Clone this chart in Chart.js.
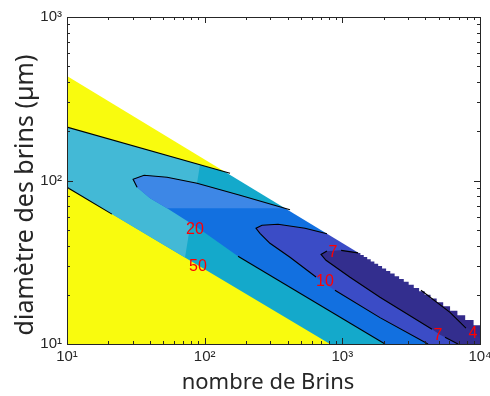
<!DOCTYPE html>
<html>
<head>
<meta charset="utf-8">
<script src="https://cdn.jsdelivr.net/npm/chart.js@4.4.1/dist/chart.umd.min.js"></script>
<style>
  html, body { margin: 0; background: #fff; }
</style>
</head>
<body>
<canvas id="carte" width="490" height="396"></canvas>
<script>
// valeurs : [nombre de brins, diamètre en µm]
const limiteDomaine = [[10, 435], [1316, 36], [1353, 36]];
// fin des rangées de la grille (bord en escalier en bas à droite)
const escalier = [
  [1316, 36], [1353, 35], [1431, 34], [1516, 33], [1608, 32], [1709, 31], [1821, 30],
  [1944, 29], [2080, 28], [2230, 27], [2399, 26], [2585, 25], [2795, 24], [3033, 23],
  [3303, 22], [3611, 21], [3963, 20], [4372, 19], [4845, 18], [5403, 17], [6062, 16],
  [6853, 15], [7807, 14], [8982, 13], [10000, 13]
];
const coinHautDroit = [[10000, 1000], [10000, 10]];

const ligne50Haut = [[10, 212], [152.8, 110.8]];
const ligne50Bas = [[10, 90.9], [813.7, 10]];

const contour20Haut = [[30.2, 101.8], [36.3, 107.7], [53.3, 104.7], [88, 96.2], [180.6, 81.2], [416.7, 66.2]];
const contour20Bas = [[30.2, 101.8], [32.3, 90.9], [40.1, 77.9], [53.3, 67.6], [88, 51.7], [174.7, 34.4], [2041, 10]];

const contour10Haut = [[236, 51], [261, 53.2], [341, 54], [535.6, 51], [773.6, 47.2]];
const contour10Bas = [[236, 51], [252.3, 47.5], [298, 41.3], [416.7, 33.9], [644, 25.7], [813.7, 22.2], [884, 21.3], [1877, 14.5], [4191, 10]];

const contour7Haut = [[700, 35.3], [761, 36.9], [961.6, 37.4], [1300, 36.1]];
const contour7Bas = [[700, 35.3], [761, 32.5], [1137, 25.6], [1877, 19.3], [4480, 12.3], [5121, 11.4], [5568, 11.0], [6920, 10]];

const contour4 = [[3727, 21.3], [6053, 15.6], [10000, 10.8]];

// teintes plus claires (rendu de la figure d'origine)
const cyanClair = [[10, 212], [92.5, 124.9], [72, 33.8], [10, 90.9]];
const bleuClair = [[53.3, 67.7], [40.1, 77.9], [32.3, 90.9], [30.2, 101.8], [36.3, 107.7], [53.3, 104.7], [88, 96.2], [180.6, 81.2], [392, 67.7]];

// morceaux de lignes noires visibles
const traits = [
  ligne50Haut,
  [[10, 90.9], [21.2, 62.3]],
  [[32.3, 90.9], [30.2, 101.8], ...contour20Haut.slice(1)],
  [[174.7, 34.4], [2041, 10]],
  [[644, 25.7], [416.7, 33.9], [298, 41.3], [252.3, 47.5], ...contour10Haut],
  [[884, 21.3], [1877, 14.5], [4191, 10]],
  [[773.6, 37.1], [700, 35.3], [761, 32.5], [1137, 25.6], [1877, 19.3], [4480, 12.3]],
  [[980, 37.4], [1300, 36.1]],
  [[5568, 11.0], [6920, 10]],
  [[3727, 21.3], [6053, 15.6], [7912, 12.5]]
];

const etiquettes = [
  {texte: '20', n: 85.1, d: 50.3},
  {texte: '50', n: 89.4, d: 29.8},
  {texte: '7', n: 855, d: 36.4},
  {texte: '10', n: 748, d: 24.1},
  {texte: '7', n: 4953, d: 11.3},
  {texte: '4', n: 8895, d: 11.6}
];

const titreX = 'nombre de Brins';
const titreY = 'diamètre des brins (µm)';
const exposants = {1: '¹', 2: '²', 3: '³', 4: '⁴'};
const couleurs = {
  jaune: '#f9fb0e',
  cyan: '#14a9cb',
  cyanClair: '#43b9d6',
  bleu: '#1270e0',
  bleuClair: '#3d87e6',
  bleuViolet: '#3b4cc6',
  violet: '#332e8e',
  violetFonce: '#33298a'
};

const pts = arr => arr.map(p => ({x: p[0], y: p[1]}));
const interieur = (haut, bas) => [
  ...bas.slice().reverse(), ...haut.slice(1), ...coinHautDroit, bas[bas.length - 1]
];

const zones = [
  {poly: [[10, 10], [10, 1000], [10000, 1000], [10000, 10]], c: couleurs.jaune},
  {poly: [...ligne50Haut, ...coinHautDroit, ...ligne50Bas.slice().reverse()], c: couleurs.cyan},
  {poly: cyanClair, c: couleurs.cyanClair},
  {poly: interieur(contour20Haut, contour20Bas), c: couleurs.bleu},
  {poly: bleuClair, c: couleurs.bleuClair},
  {poly: interieur(contour10Haut, contour10Bas), c: couleurs.bleuViolet},
  {poly: interieur(contour7Haut, contour7Bas), c: couleurs.violet},
  {poly: [...contour4, [10000, 1000]], c: couleurs.violetFonce},
  {poly: [...limiteDomaine, [1353, 1000], [10, 1000]], c: '#ffffff'},
  {poly: [...escalier, [10000, 1000], [1316, 1000]], c: '#ffffff', marches: 'before'}
];

const datasets = [];
zones.forEach((z, i) => datasets.push({
  data: pts(z.poly), showLine: true, fill: 'shape', backgroundColor: z.c,
  borderWidth: 0, pointRadius: 0, tension: 0, stepped: z.marches || false, order: 100 - i
}));
traits.forEach(t => datasets.push({
  data: pts(t), showLine: true, fill: false, borderColor: '#000',
  borderWidth: 1.1, pointRadius: 0, tension: 0, order: 1
}));

const graduer = scale => {
  const ticks = [];
  for (let e = Math.log10(scale.min); e < Math.log10(scale.max); e++) {
    for (let k = 1; k < 10; k++) ticks.push({value: k * Math.pow(10, e)});
  }
  ticks.push({value: scale.max});
  scale.ticks = ticks;
};
const estDecade = v => Math.abs(Math.log10(v) - Math.round(Math.log10(v))) < 1e-9;
const texteTick = v => estDecade(v) ? '10' + exposants[Math.round(Math.log10(v))] : '';

const cadre = {
  id: 'cadre',
  afterDatasetsDraw(chart) {
    const {ctx, chartArea: a, scales: {x, y}} = chart;
    ctx.save();
    ctx.fillStyle = '#ff0000';
    ctx.font = '16px "Liberation Sans", Arial, sans-serif';
    ctx.textAlign = 'center';
    ctx.textBaseline = 'middle';
    etiquettes.forEach(e => ctx.fillText(e.texte, x.getPixelForValue(e.n), y.getPixelForValue(e.d)));

    ctx.strokeStyle = '#262626';
    ctx.lineWidth = 1;
    ctx.beginPath();
    x.ticks.forEach(t => {
      const px = Math.round(x.getPixelForValue(t.value)) + 0.5;
      const len = estDecade(t.value) ? 6 : 3;
      ctx.moveTo(px, a.bottom); ctx.lineTo(px, a.bottom - len);
      ctx.moveTo(px, a.top); ctx.lineTo(px, a.top + len);
    });
    y.ticks.forEach(t => {
      const py = Math.round(y.getPixelForValue(t.value)) + 0.5;
      const len = estDecade(t.value) ? 6 : 3;
      ctx.moveTo(a.left, py); ctx.lineTo(a.left + len, py);
      ctx.moveTo(a.right, py); ctx.lineTo(a.right - len, py);
    });
    ctx.stroke();
    ctx.strokeRect(Math.round(a.left) + 0.5, Math.round(a.top) + 0.5,
      Math.round(a.right - a.left), Math.round(a.bottom - a.top));

    // titres des axes
    ctx.fillStyle = '#262626';
    ctx.textBaseline = 'alphabetic';
    ctx.font = '22px "Noto Sans", sans-serif';
    ctx.fillText(titreX, 268, 389);
    ctx.translate(33, 195);
    ctx.rotate(-Math.PI / 2);
    ctx.font = '25px "Noto Sans", sans-serif';
    ctx.fillText(titreY, 0, 0);
    ctx.restore();
  }
};

new Chart(document.getElementById('carte'), {
  type: 'scatter',
  data: {datasets},
  options: {
    responsive: false,
    animation: false,
    layout: {padding: {top: 17, right: 10, left: 0, bottom: 0}},
    plugins: {legend: {display: false}, tooltip: {enabled: false}},
    scales: {
      x: {
        type: 'logarithmic', min: 10, max: 10000,
        grid: {display: false, drawTicks: false},
        border: {display: false},
        afterBuildTicks: graduer,
        afterFit: s => { s.height = 52; s.paddingLeft = 0; s.paddingRight = 0; },
        ticks: {
          autoSkip: false, maxRotation: 0, padding: 4, color: '#262626',
          font: {family: '"Liberation Sans", "DejaVu Sans"', size: 15},
          callback: texteTick
        }
      },
      y: {
        type: 'logarithmic', min: 10, max: 1000,
        grid: {display: false, drawTicks: false},
        border: {display: false},
        afterBuildTicks: graduer,
        afterFit: s => { s.width = 67; s.paddingTop = 0; s.paddingBottom = 0; },
        ticks: {
          autoSkip: false, padding: 5, color: '#262626',
          font: {family: '"Liberation Sans", "DejaVu Sans"', size: 15},
          callback: texteTick
        }
      }
    }
  },
  plugins: [cadre]
});
</script>
</body>
</html>
